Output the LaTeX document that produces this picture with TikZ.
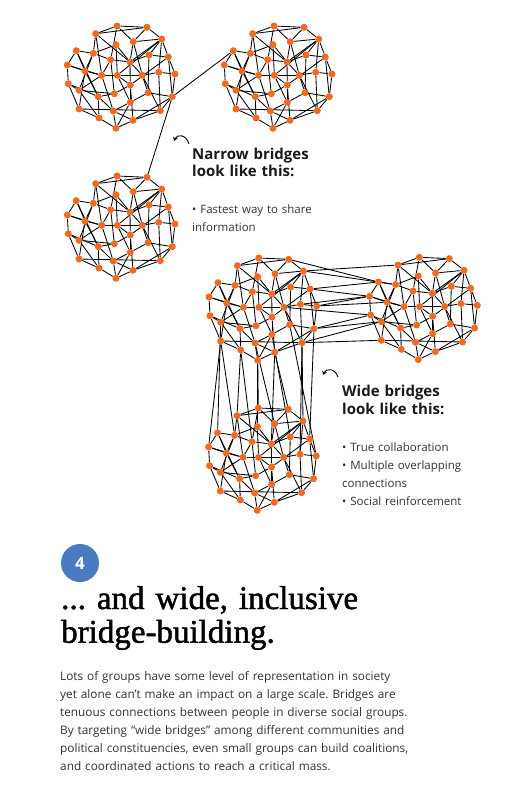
\documentclass[tikz,border=0pt]{standalone}
\usepackage{fontspec}
\setmainfont{Open Sans}
\newfontfamily\titlefont[FakeBold=1.4]{Liberation Serif}
\usetikzlibrary{arrows.meta,backgrounds}
\definecolor{ndot}{HTML}{F26A22}
\definecolor{nbadge}{HTML}{4A7BC0}
\definecolor{ntext}{HTML}{333333}
\frenchspacing
\tikzset{
  person/.style={circle, fill=ndot, inner sep=0pt, minimum size=7pt},
  link/.style={draw=black, line width=0.85pt},
  pointer/.style={-{Stealth[length=4pt,width=5pt]}, line width=0.9pt},
  headline/.style={font=\fontsize{15}{17.5}\selectfont\bfseries, text=black!90, text width=200pt,
                   align=left, inner sep=0pt, anchor=base west},
  bullets/.style={font=\fontsize{11.5}{18}\selectfont, text=ntext, text width=200pt,
                  align=left, inner sep=0pt, anchor=base west},
}
% one group: people at local positions, then their ties
\newcommand{\groupnodes}{1/62/11, 2/92/12.3, 3/40.7/18.7, 4/106.7/24, 5/78.3/26.7, 6/61/29.7,
  7/21.3/35.7, 8/38.3/38.3, 9/94/40, 10/113.3/42, 11/55.7/44.7, 12/75/47, 13/12.3/50, 14/30/56,
  15/103.7/57.3, 16/120/59, 17/46.7/60.3, 18/62.3/60.3, 19/87.3/60.3, 20/13.3/68.7, 21/75.3/70,
  22/24/75.3, 23/59.3/78.7, 24/93/77.7, 25/43.3/81.7, 26/117.3/81.7, 27/75.3/87.3, 28/24/94,
  29/58.3/96, 30/105.3/95.7, 31/44/103, 32/78/105.3, 33/61/113.3}
\newcommand{\groupties}{1/2, 1/3, 1/5, 1/11, 2/3, 2/5, 2/4, 3/8, 3/17, 3/12,
  4/5, 4/9, 4/12, 4/10, 4/15, 4/18, 5/12, 5/19, 6/8, 6/12, 6/18,
  7/8, 7/13, 7/14, 7/25, 8/11, 8/14, 8/22, 9/10, 9/12, 9/24,
  10/16, 10/26, 10/21, 11/12, 11/17, 11/23, 12/19, 12/21,
  13/14, 13/20, 13/17, 14/17, 14/28, 14/25, 15/16, 15/19, 15/30, 16/26,
  17/18, 17/22, 17/29, 18/19, 18/21, 18/27, 19/24, 19/30,
  20/22, 20/28, 20/25, 21/27, 21/23, 21/32, 22/23, 22/31, 23/25,
  24/27, 24/26, 25/31, 25/29, 26/30, 26/32, 27/29, 27/33, 28/30, 28/31,
  29/32, 29/33, 30/32, 31/33, 32/33}
\newcommand{\drawgroup}[3]{%
  \foreach \i/\px/\py in \groupnodes {\node[person] (#1\i) at (#2+\px,#3+\py) {};}
  \begin{scope}[on background layer]
    \foreach \a/\b in \groupties {\draw[link] (#1\a) -- (#1\b);}
  \end{scope}}

\begin{document}
\begin{tikzpicture}[x=1pt, y=-1pt]
  \useasboundingbox (0,0) rectangle (529,791);

  % narrow bridges
  \drawgroup{nl}{55}{15}
  \drawgroup{nr}{212}{15}
  \drawgroup{nb}{55}{165}
  \begin{scope}[on background layer]
    \draw[link] (nl26) -- (nr7);
    \draw[link] (nl26) -- (nb2);
  \end{scope}

  % wide bridges
  \drawgroup{wl}{196.7}{247}
  \drawgroup{wr}{357.3}{246.3}
  \drawgroup{wb}{196.3}{397}
  \begin{scope}[on background layer]
    \foreach \a/\b in {2/7, 4/3, 4/8, 10/7, 10/13, 16/14, 16/13, 19/20, 26/20, 26/22, 30/22, 30/28, 15/13}
      {\draw[link] (wl\a) -- (wr\b);}
    \foreach \a/\b in {28/8, 28/13, 31/3, 31/11, 33/1, 33/6, 29/5, 32/2, 32/12, 27/9, 30/4, 30/15,
                       26/10, 24/16, 22/7}
      {\draw[link] (wl\a) -- (wb\b);}
  \end{scope}

  % captions
  \coordinate (nfrom) at (189,144);
  \coordinate (nto) at (174,141);
  \draw[pointer] (nfrom) .. controls (186,134) and (177,134) .. (nto);
  \node[headline] (nhead) at (192,159.3) {Narrow bridges\\look like this:};
  \node[bullets] (nlist) at (192,213.3) {• Fastest way to share\\information};

  \coordinate (wfrom) at (338,377);
  \coordinate (wto) at (323,375);
  \draw[pointer] (wfrom) .. controls (335,368) and (326,368) .. (wto);
  \node[headline] (whead) at (342,396.7) {Wide bridges\\look like this:};
  \node[bullets] (wlist) at (342,451.7) {• True collaboration\\• Multiple overlapping\\connections\\• Social reinforcement};

  % section text
  \node[circle, fill=nbadge, minimum size=38pt, inner sep=0pt, text=white,
        font=\fontsize{17}{17}\selectfont\bfseries] (badge) at (80,563) {4};
  \node[font=\titlefont\fontsize{33}{33.7}\selectfont, text width=400pt, align=left,
        inner sep=0pt, anchor=base west] (title) at (61,609) {... and wide, inclusive\\bridge-building.};
  \node[font=\fontsize{11.8}{18}\selectfont, text=ntext, text width=440pt, align=left,
        inner sep=0pt, anchor=base west] (body) at (60,680.7)
    {Lots of groups have some level of representation in society\\
     yet alone can’t make an impact on a large scale. Bridges are\\
     tenuous connections between people in diverse social groups.\\
     By targeting “wide bridges” among different communities and\\
     political constituencies, even small groups can build coalitions,\\
     and coordinated actions to reach a critical mass.};
\end{tikzpicture}
\end{document}
